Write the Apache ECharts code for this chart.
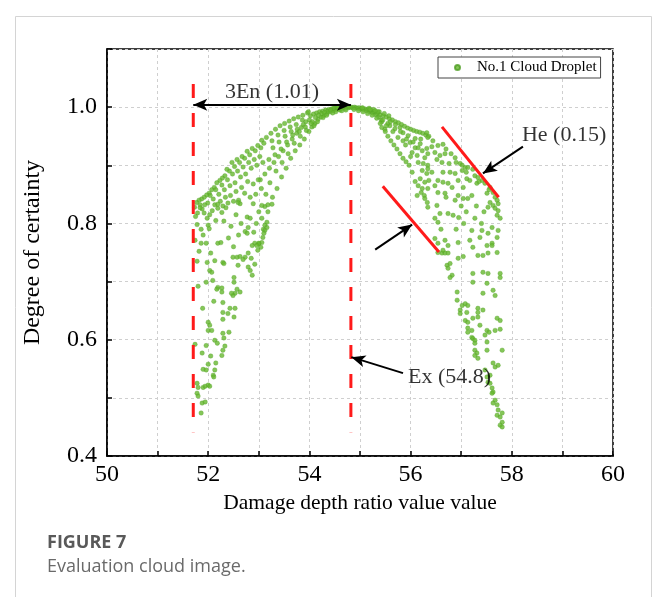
<!DOCTYPE html>
<html>
<head>
<meta charset="utf-8">
<script src="https://cdn.jsdelivr.net/npm/echarts@6/dist/echarts.min.js"></script>
<style>
html,body{margin:0;padding:0;background:#fff;}
#chart{width:659px;height:597px;}
</style>
</head>
<body>
<div id="chart"></div>
<script>
// ---- data ----
const seriesName = 'No.1 Cloud Droplet';
const xAxisTitle = 'Damage depth ratio value value';
const yAxisTitle = 'Degree of certainty';
const figureTitle = 'FIGURE 7';
const figureCaption = 'Evaluation cloud image.';

// left half of the droplet cloud [x, certainty]
const leftDroplets = [
[54.80,1.000],[54.77,0.999],[54.74,1.000],[54.71,0.998],[54.68,1.000],[54.65,0.998],[54.62,0.999],[54.59,0.997],[54.56,0.999],[54.53,0.996],[54.50,0.998],[54.47,0.994],[54.44,0.997],[54.41,0.992],[54.38,0.996],[54.35,0.989],[54.32,0.995],[54.29,0.986],[54.26,0.993],[54.23,0.983],[54.20,0.992],[54.17,0.979],[54.14,0.990],[54.11,0.972],[54.08,0.988],[54.05,0.966],[54.02,0.985],[53.99,0.958],[53.96,0.990],[53.93,0.975],[53.90,0.945],[53.87,0.986],[53.84,0.965],[53.81,0.935],[53.78,0.983],[53.75,0.955],[53.72,0.925],[53.69,0.980],[53.66,0.945],[53.63,0.912],[53.60,0.976],[53.57,0.935],[53.54,0.895],[53.51,0.972],[53.48,0.925],[53.45,0.880],[53.42,0.968],[53.39,0.915],[53.36,0.860],[53.33,0.962],[53.30,0.905],[53.27,0.845],[53.24,0.955],[53.21,0.895],[53.18,0.820],[53.15,0.948],[53.12,0.885],[53.09,0.790],[53.06,0.943],[53.03,0.875],[53.00,0.765],
[54.60,0.995],[54.48,0.998],[54.36,0.993],[54.24,0.989],[54.12,0.982],[54.00,0.978],[53.88,0.970],[53.76,0.962],[53.64,0.958],[53.52,0.950],[53.40,0.940],[53.28,0.930],[54.55,0.999],[54.42,0.995],[54.30,0.991],[54.18,0.986],[54.06,0.975],[53.94,0.960],[53.82,0.950],[53.70,0.938],[53.58,0.920],[53.46,0.905],[53.34,0.890],[53.22,0.870],[53.14,0.850],[53.98,0.992],[53.86,0.978],[53.74,0.970],[53.62,0.966],[53.50,0.960],[53.38,0.952],[53.26,0.942],
[54.72,0.995],[54.64,0.994],[54.52,0.992],[54.46,0.990],[54.34,0.986],[54.27,0.982],[54.16,0.975],[54.09,0.968],[54.03,0.972],[53.92,0.966],[53.80,0.958],[53.67,0.952],[53.55,0.940],[53.44,0.928],[53.32,0.918],[53.20,0.910],
[53.10,0.938],[53.04,0.930],[52.98,0.934],[52.93,0.925],[52.87,0.929],[52.82,0.918],[52.77,0.924],[52.72,0.912],[52.67,0.915],[52.62,0.905],[52.57,0.910],[52.52,0.898],[52.47,0.905],[52.42,0.890],[52.37,0.893],[52.33,0.882],[52.28,0.878],[52.23,0.874],[52.17,0.870],[52.12,0.862],[52.07,0.858],[52.02,0.852],[51.97,0.849],[51.92,0.845],[51.87,0.842],[51.82,0.840],[51.77,0.836],[51.73,0.828],
[53.08,0.905],[53.02,0.915],[52.96,0.900],[52.91,0.910],[52.85,0.895],[52.80,0.905],[52.74,0.885],[52.69,0.897],[52.64,0.880],[52.58,0.890],[52.53,0.870],[52.48,0.885],[52.43,0.865],[52.38,0.875],[52.32,0.858],[52.27,0.866],[52.21,0.850],[52.15,0.858],[52.10,0.842],[52.04,0.848],[51.99,0.835],[51.93,0.832],[51.88,0.825],[51.84,0.832],[51.79,0.818],[51.75,0.812],
[53.05,0.860],[52.99,0.875],[52.94,0.850],[52.89,0.868],[52.83,0.845],[52.78,0.872],[52.72,0.852],[52.66,0.862],[52.60,0.840],[52.55,0.855],[52.50,0.838],[52.44,0.848],[52.39,0.835],[52.34,0.845],[52.29,0.830],[52.24,0.838],[52.19,0.826],[52.13,0.832],[52.08,0.822],[52.03,0.815],[51.98,0.809],[51.92,0.818],
[53.12,0.829],[53.18,0.832],[53.26,0.833],[53.06,0.831],[52.89,0.834],[52.63,0.834],[52.59,0.836],[52.35,0.827],[52.27,0.819],[52.19,0.833],[51.84,0.827],
[51.78,0.798],[51.86,0.790],[52.00,0.797],[52.02,0.791],[52.31,0.804],[52.77,0.811],[52.83,0.809],[53.06,0.809],[53.16,0.802],[53.12,0.797],[53.16,0.793],[52.79,0.793],[52.73,0.786],[52.77,0.783],[53.12,0.788],[53.10,0.783],[53.08,0.776],[53.06,0.767],[53.00,0.766],[52.92,0.766],[52.96,0.762],[52.87,0.762],[53.04,0.759],[52.98,0.754],[51.74,0.771],[51.86,0.766],[51.96,0.766],[52.19,0.766],[52.25,0.767],[52.05,0.749],[51.82,0.752],[52.45,0.795],[52.55,0.815],[52.60,0.780],[52.40,0.775],[52.15,0.805],[51.90,0.780],[52.50,0.760],[52.65,0.800],[52.95,0.800],[53.00,0.820],[52.90,0.785],
[52.29,0.733],[52.13,0.736],[51.98,0.733],[52.03,0.719],[52.07,0.716],[52.49,0.742],[52.57,0.742],[52.63,0.743],[52.73,0.742],[52.69,0.738],[52.79,0.749],[52.59,0.728],[52.79,0.725],[52.83,0.719],[52.87,0.711],[52.09,0.702],[52.51,0.707],[52.51,0.699],[52.31,0.731],[51.78,0.735],[52.85,0.740],[52.92,0.730],
[51.80,0.692],[51.96,0.699],[52.19,0.690],[52.27,0.689],[52.17,0.687],[52.27,0.682],[52.57,0.687],[52.53,0.680],[52.49,0.676],[52.46,0.680],[52.63,0.682],[52.11,0.666],[52.29,0.664],[51.89,0.654],[52.43,0.654],[52.53,0.654],[52.51,0.639],[52.39,0.645],[52.29,0.647],[52.29,0.635],[52.00,0.630],[52.03,0.625],[52.00,0.616],[52.07,0.616],[52.29,0.611],[52.41,0.613],[51.74,0.592],[51.96,0.590],[52.13,0.599],[52.18,0.594],[52.31,0.603],[52.33,0.589],[52.29,0.582],[52.27,0.573],[51.88,0.577],[52.05,0.572],[52.00,0.558],[52.15,0.560],[51.90,0.549],[51.96,0.548],[52.13,0.548],[52.10,0.539],[52.11,0.536],[51.78,0.525],[51.80,0.518],[51.90,0.518],[51.94,0.520],[52.00,0.522],[52.03,0.520],[51.78,0.508],[51.80,0.503],[51.88,0.491],[51.94,0.493],[51.86,0.474]
];

// right half of the droplet cloud [x, certainty]
const rightDroplets = [
[54.83,1.000],[54.86,0.999],[54.89,1.000],[54.92,0.999],[54.95,0.998],[54.98,0.999],[55.01,0.997],[55.04,0.998],[55.07,0.996],[55.10,0.997],[55.13,0.994],[55.16,0.996],[55.19,0.992],[55.22,0.994],[55.25,0.990],[55.28,0.992],[55.31,0.987],[55.34,0.989],[55.37,0.983],[55.40,0.987],[55.43,0.975],[55.46,0.985],[55.49,0.962],[55.52,0.983],[55.55,0.950],[55.58,0.980],[55.61,0.942],[55.64,0.978],[55.67,0.935],[55.70,0.975],[55.73,0.928],[55.76,0.973],[55.79,0.920],[55.82,0.970],[55.85,0.912],[55.88,0.967],[55.91,0.906],[55.94,0.964],[55.97,0.900],[56.00,0.962],[56.03,0.888],[56.06,0.960],[56.09,0.872],[56.12,0.958],[56.15,0.865],[56.18,0.957],[56.21,0.853],[56.24,0.955],[56.27,0.848],[56.30,0.952],[56.33,0.836],[56.36,0.950],
[54.88,0.996],[54.97,0.994],[55.06,0.992],[55.15,0.989],[55.24,0.986],[55.33,0.981],[55.42,0.978],[55.18,0.998],[55.27,0.996],[55.38,0.992],[55.48,0.989],[55.57,0.985],
[55.59,0.968],[55.69,0.963],[55.79,0.965],[55.85,0.956],[55.95,0.951],[55.75,0.948],[55.85,0.942],[55.99,0.939],[56.09,0.946],[56.19,0.937],[56.09,0.930],[56.23,0.925],[56.32,0.929],[56.03,0.922],[56.13,0.917],[56.28,0.913],[56.15,0.905],[56.25,0.903],[56.34,0.900],[56.23,0.891],[56.32,0.886],[56.19,0.877],[56.28,0.871],[56.34,0.860],[56.23,0.860],[56.13,0.848],[56.28,0.843],[55.45,0.978],[55.55,0.972],[55.65,0.958],[55.90,0.935],[56.00,0.915],
[55.40,0.972],[55.43,0.965],[55.50,0.958],[55.52,0.968],[55.35,0.992],[55.20,0.996],[55.05,0.999],[55.30,0.994],[55.60,0.975],[55.70,0.970],[55.80,0.958],[55.92,0.945],[56.05,0.940],[56.20,0.945],[56.15,0.930],
[56.32,0.956],[56.34,0.948],[56.44,0.942],[56.54,0.934],[56.64,0.936],[56.42,0.932],[56.34,0.920],[56.48,0.922],[56.58,0.917],[56.68,0.920],[56.80,0.920],[56.88,0.913],[56.52,0.910],[56.62,0.905],[56.76,0.903],[56.98,0.903],[57.02,0.900],[57.08,0.896],[57.13,0.896],[57.23,0.893],[56.34,0.894],[56.42,0.888],[56.64,0.888],[56.78,0.888],[56.88,0.886],[57.02,0.891],[57.27,0.882],[57.33,0.879],[56.36,0.874],[56.54,0.874],[56.64,0.871],[56.74,0.869],[56.94,0.874],[57.11,0.877],[57.17,0.874],[57.41,0.874],[57.47,0.869],[57.57,0.862],[56.48,0.865],[56.82,0.862],[57.04,0.862],[57.31,0.869],[56.54,0.853],[56.68,0.852],[56.94,0.848],[57.21,0.848],[57.51,0.852],[57.63,0.853],[57.67,0.845],[57.71,0.840],[57.73,0.834],[56.88,0.840],[57.04,0.843],[57.13,0.843],[57.57,0.836],[57.63,0.831],[57.67,0.826],[57.73,0.822],[57.53,0.828],[56.34,0.828],[56.52,0.831],[56.58,0.817],[56.74,0.817],[56.84,0.814],[57.27,0.809],[56.48,0.809],[56.54,0.802],[57.71,0.814],[57.77,0.809],[57.61,0.793],[57.21,0.788],[57.41,0.788],[57.53,0.783],[57.73,0.788],[57.17,0.771],[57.37,0.776],[57.71,0.776],[56.68,0.771],[56.54,0.766],[56.74,0.762],[57.51,0.762],[57.61,0.766],[56.48,0.774],
[56.70,0.928],[56.90,0.905],[57.10,0.888],[57.35,0.872],[57.55,0.858],[57.00,0.830],[56.95,0.810],[57.30,0.830],[57.45,0.820],[56.70,0.845],[57.10,0.820],[57.40,0.800],[56.60,0.790],[56.90,0.790],[57.05,0.800],
[56.62,0.749],[56.68,0.749],[56.54,0.750],[56.64,0.754],[56.74,0.749],[56.94,0.767],[56.94,0.740],[57.04,0.743],[57.23,0.759],[57.33,0.745],[57.43,0.745],[57.53,0.749],[57.71,0.750],[57.61,0.762],[56.72,0.728],[56.78,0.731],[56.74,0.723],[56.82,0.711],[56.78,0.707],[57.23,0.714],[57.43,0.716],[57.53,0.714],[57.77,0.707],[57.23,0.699],[57.43,0.680],[57.63,0.685],[57.67,0.676],[56.92,0.682],[56.92,0.668],[57.02,0.659],[57.08,0.662],[57.13,0.659],[56.98,0.651],[56.98,0.645],[57.11,0.647],[57.33,0.654],[57.43,0.651],[57.33,0.647],[57.08,0.633],[57.13,0.630],[57.23,0.637],[57.33,0.639],[57.71,0.637],[57.77,0.633],[57.13,0.620],[57.21,0.616],[57.13,0.613],[57.37,0.625],[57.51,0.616],[57.67,0.616],[57.77,0.618],[57.21,0.604],[57.23,0.602],[57.27,0.599],[57.27,0.594],[57.47,0.608],[57.51,0.596],[57.27,0.582],[57.31,0.577],[57.27,0.573],[57.33,0.568],[57.51,0.582],[57.81,0.582],[57.63,0.560],[57.67,0.553],[57.47,0.548],[57.51,0.536],[57.57,0.539],[57.53,0.527],[57.57,0.525],[57.61,0.517],[57.63,0.510],[57.61,0.508],[57.67,0.496],[57.71,0.488],[57.63,0.491],[57.73,0.479],[57.71,0.470],[57.81,0.474],[57.77,0.467],[57.81,0.458],[57.77,0.453],[57.81,0.450],[57.51,0.697],[57.77,0.714],[57.55,0.613],[57.73,0.556]
];

// cloud characteristic values and guide positions
const Ex = 54.8;
const En3Left = 51.705;       // Ex - 3En
const guideTop = 1.04, guideBottom = 0.441;
const En3ArrowY = 1.0043;
const heLineOuter = [[56.62, 0.966], [57.74, 0.845]];
const heLineInner = [[55.45, 0.864], [56.56, 0.751]];
const heArrowOuter = [[58.22, 0.932], [57.43, 0.886]];
const heArrowInner = [[55.30, 0.755], [56.03, 0.798]];
const exArrow = [[55.85, 0.5425], [54.83, 0.570]];
const labels = [
  {text: '3En (1.01)', at: [53.26, 1.026], align: 'center'},
  {text: 'He (0.15)', at: [58.20, 0.951], align: 'left'},
  {text: 'Ex (54.8)', at: [55.95, 0.536], align: 'left'}
];
const xTickLabels = [50, 52, 54, 56, 58, 60];
const yTickLabels = [0.4, 0.6, 0.8, 1.0];

// ---- chart ----
const serif = '"Liberation Serif", "Times New Roman", serif';
const chart = echarts.init(document.getElementById('chart'), null, {renderer: 'canvas'});
const droplets = leftDroplets.concat(rightDroplets);

function arrowLine(seg, both) {
  return [
    {coord: seg[0], symbol: both ? 'arrow' : 'none'},
    {coord: seg[1], symbol: 'arrow'}
  ];
}

const option = {
  animation: false,
  backgroundColor: '#fff',
  grid: {left: 107, right: 46, top: 49, bottom: 141, show: true, borderColor: '#000', borderWidth: 1.5, backgroundColor: 'transparent'},
  legend: {
    data: [seriesName],
    left: 438, top: 57,
    orient: 'horizontal',
    icon: 'circle',
    itemWidth: 5, itemHeight: 5,
    borderColor: '#444', borderWidth: 1,
    padding: [3, 4, 3, 16],
    backgroundColor: '#fff',
    textStyle: {fontFamily: serif, fontSize: 15, color: '#000', padding: [0, 0, 0, 12]}
  },
  xAxis: {
    type: 'value', min: 50, max: 60, interval: 1,
    name: xAxisTitle, nameLocation: 'middle', nameGap: 24,
    nameTextStyle: {fontFamily: serif, fontSize: 21.5, color: '#000'},
    axisLine: {show: true, onZero: false, lineStyle: {color: '#000', width: 1.5}},
    axisTick: {show: true, inside: true, length: 5, lineStyle: {color: '#000', width: 1.5}},
    axisLabel: {
      fontFamily: serif, fontSize: 24, color: '#000', margin: 7,
      formatter: v => xTickLabels.indexOf(v) >= 0 ? String(v) : ''
    },
    splitLine: {show: true, lineStyle: {color: '#cfcfcf', width: 1, type: [3, 3]}}
  },
  yAxis: {
    type: 'value', min: 0.4, max: 1.1, interval: 0.1,
    name: yAxisTitle, nameLocation: 'middle', nameGap: 62,
    nameTextStyle: {fontFamily: serif, fontSize: 24, color: '#000'},
    axisLine: {show: true, onZero: false, lineStyle: {color: '#000', width: 1.5}},
    axisTick: {show: true, inside: true, length: 5, lineStyle: {color: '#000', width: 1.5}},
    axisLabel: {
      fontFamily: serif, fontSize: 24, color: '#000', margin: 10,
      formatter: v => {
        const r = Math.round(v * 10) / 10;
        return yTickLabels.some(t => Math.abs(t - r) < 1e-9) ? r.toFixed(1) : '';
      }
    },
    splitLine: {show: true, lineStyle: {color: '#cfcfcf', width: 1, type: [3, 3]}}
  },
  series: [
    {
      name: seriesName, type: 'scatter', data: droplets,
      symbol: 'circle', symbolSize: 4.5,
      itemStyle: {color: '#66b830', borderColor: '#4e9d22', borderWidth: 0.4},
      z: 2
    },
    {
      name: 'guideLeft', type: 'line', data: [[En3Left, guideTop], [En3Left, guideBottom]],
      symbol: 'none', lineStyle: {color: '#ff1a1a', width: 3, type: [14, 15]}, z: 3, silent: true
    },
    {
      name: 'guideEx', type: 'line', data: [[Ex + 0.02, guideTop], [Ex + 0.02, guideBottom]],
      symbol: 'none', lineStyle: {color: '#ff1a1a', width: 3, type: [14, 15]}, z: 3, silent: true
    },
    {
      name: 'heOuter', type: 'line', data: heLineOuter,
      symbol: 'none', lineStyle: {color: '#ff1a1a', width: 3}, z: 3, silent: true
    },
    {
      name: 'heInner', type: 'line', data: heLineInner,
      symbol: 'none', lineStyle: {color: '#ff1a1a', width: 3}, z: 3, silent: true
    },
    {
      name: 'arrows', type: 'line', data: [], z: 4, silent: true,
      markLine: {
        silent: true, animation: false,
        symbolSize: [9, 14],
        label: {show: false},
        lineStyle: {color: '#000', width: 2, type: 'solid'},
        emphasis: {disabled: true},
        data: [
          arrowLine([[En3Left, En3ArrowY], [Ex + 0.02, En3ArrowY]], true),
          arrowLine(heArrowOuter, false),
          arrowLine(heArrowInner, false),
          arrowLine(exArrow, false)
        ]
      }
    },
    {
      name: 'labels', type: 'scatter', symbolSize: 0, z: 5, silent: true,
      data: labels.map(l => ({
        value: l.at,
        label: {
          show: true, formatter: l.text, position: l.align === 'center' ? 'inside' : 'right',
          distance: 0, align: l.align, verticalAlign: 'middle',
          fontFamily: serif, fontSize: 22, color: '#000'
        }
      }))
    }
  ],
  graphic: [
    {type: 'rect', silent: true, z: -10,
     shape: {x: 15.5, y: 16.5, width: 636, height: 640},
     style: {fill: 'none', stroke: '#d4d4d4', lineWidth: 1}},
    {type: 'text', left: 47, top: 534, silent: true,
     style: {text: figureTitle, font: 'bold 18px "Open Sans", sans-serif', fill: '#595959'}},
    {type: 'text', left: 47, top: 558, silent: true,
     style: {text: figureCaption, font: '18px "Open Sans", sans-serif', fill: '#6a6a6a'}}
  ]
};
chart.setOption(option);
</script>
</body>
</html>
